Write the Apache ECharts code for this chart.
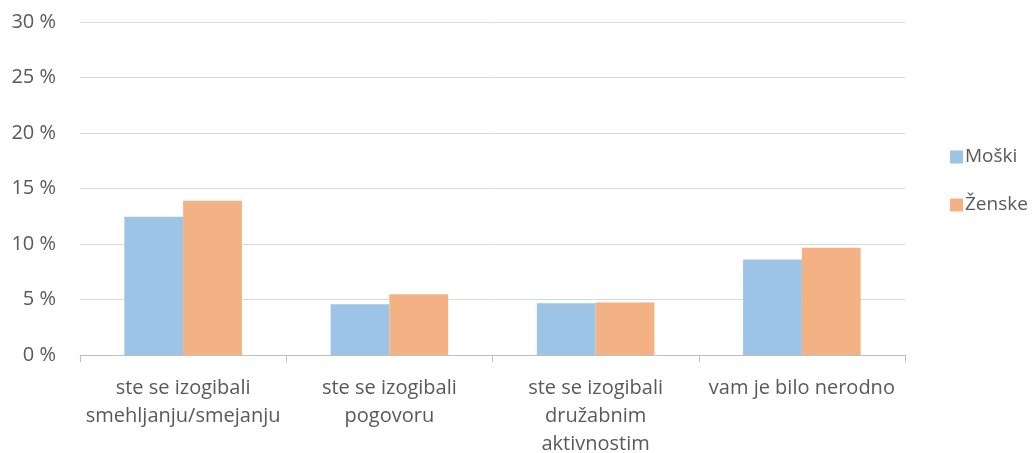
<!DOCTYPE html>
<html>
<head>
<meta charset="utf-8">
<script src="https://cdn.jsdelivr.net/npm/echarts@6/dist/echarts.min.js"></script>
<style>
  html, body { margin: 0; padding: 0; background: #fff; }
  #chart { width: 1033px; height: 453px; }
</style>
</head>
<body>
<div id="chart"></div>
<script>
const categories = [
  'ste se izogibali\nsmehljanju/smejanju',
  'ste se izogibali\npogovoru',
  'ste se izogibali\ndružabnim\naktivnostim',
  'vam je bilo nerodno'
];
const seriesNames = ['Moški', 'Ženske'];
const moski = [12.45, 4.57, 4.66, 8.6];
const zenske = [13.9, 5.47, 4.72, 9.66];

const font = '"Open Sans", "Liberation Sans", sans-serif';
const textColor = '#595959';
const chart = echarts.init(document.getElementById('chart'));
chart.setOption({
  animation: false,
  textStyle: { fontFamily: font },
  grid: {
    left: 80, right: 128, top: 22, bottom: 98,
    containLabel: false,
    outerBoundsMode: 'none'
  },
  legend: {
    orient: 'vertical',
    left: 945,
    top: 140,
    itemGap: 24,
    itemWidth: 13,
    itemHeight: 13,
    icon: 'rect',
    textStyle: { fontSize: 19, lineHeight: 24, color: textColor, fontFamily: font, padding: [0, 0, 0, -3] },
    data: seriesNames
  },
  xAxis: {
    type: 'category',
    data: categories,
    axisLine: { lineStyle: { color: '#BFBFBF', width: 1 } },
    axisTick: { show: true, length: 7, lineStyle: { color: '#BFBFBF' } },
    axisLabel: { fontSize: 20, color: textColor, lineHeight: 28, margin: 19, interval: 0, fontFamily: font }
  },
  yAxis: {
    type: 'value',
    min: 0,
    max: 30,
    interval: 5,
    axisLine: { show: false },
    axisTick: { show: false },
    splitLine: { lineStyle: { color: '#D9D9D9', width: 1 } },
    axisLabel: { fontSize: 20, color: textColor, margin: 24, formatter: v => v + ' %', fontFamily: font }
  },
  series: [
    {
      name: seriesNames[0],
      type: 'bar',
      data: moski,
      barGap: '0%',
      barCategoryGap: '43%',
      itemStyle: { color: '#9DC3E6' }
    },
    {
      name: seriesNames[1],
      type: 'bar',
      data: zenske,
      barGap: '0%',
      barCategoryGap: '43%',
      itemStyle: { color: '#F4B183' }
    }
  ]
});
</script>
</body>
</html>
